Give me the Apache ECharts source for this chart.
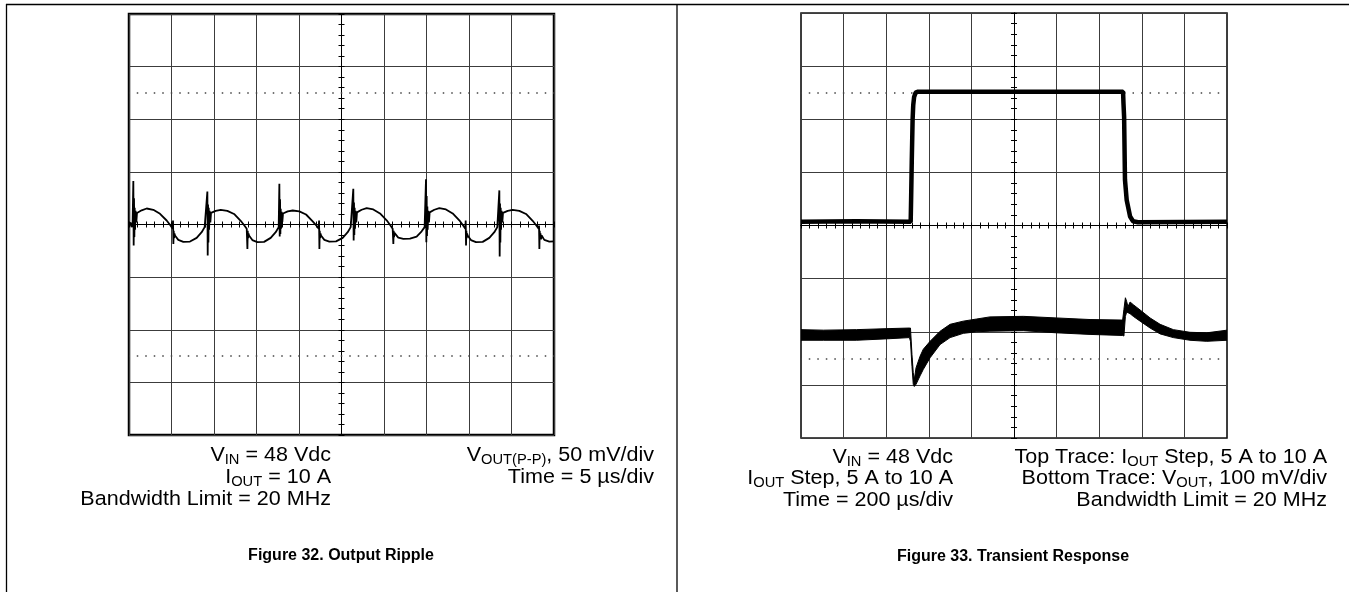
<!DOCTYPE html>
<html>
<head>
<meta charset="utf-8">
<title>Output Ripple / Transient Response</title>
<script src="https://cdn.jsdelivr.net/npm/echarts@6/dist/echarts.min.js"></script>
<style>
  html, body { margin: 0; padding: 0; background: #fff; }
  #c { width: 1349px; height: 592px; }
</style>
</head>
<body>
<div id="c"></div>
<script>
// ---------- Figure 32: output ripple (time in µs from left edge of screen, voltage in mV) ----------
const rippleSweepStart = -25;          // µs, left screen edge relative to trigger
const rippleTimeDiv = 5;               // µs/div
const rippleVoltDiv = 50;              // mV/div
const ripple = [
  [0.00,-1.5],[0.18,2.0],[0.30,-2.5],[0.42,-0.5],
  [0.51,41.3],[0.55,-20.0],[0.59,25.0],[0.63,-12.0],[0.67,16.0],[0.71,-5.0],[0.78,13.0],[0.86,2.0],[0.94,11.0],[1.10,12.5],
  [1.49,13.5],[2.08,15.2],[2.86,14.0],[3.65,10.2],[4.43,3.8],[4.82,-0.3],[5.14,-4.1],
  [5.18,3.8],[5.22,-18.4],[5.26,-6.0],[5.30,-13.0],[5.35,-8.5],
  [5.41,-10.5],[5.80,-14.6],[6.39,-16.5],[7.18,-16.2],[7.96,-12.7],[8.55,-7.3],[8.90,-2.5],

  [9.22,31.4],[9.26,-29.5],[9.30,19.0],[9.34,-17.0],[9.38,16.0],[9.42,-5.0],[9.49,13.0],[9.57,2.0],[9.65,11.0],[9.81,12.0],
  [10.20,13.0],[10.79,14.0],[11.57,13.0],[12.36,10.0],[13.14,3.5],[13.53,-0.5],[13.85,-4.1],
  [13.89,-2.5],[13.93,-23.2],[13.97,-6.0],[14.01,-13.0],[14.06,-8.5],
  [14.12,-10.5],[14.51,-14.8],[15.10,-16.8],[15.89,-16.5],[16.67,-12.7],[17.26,-7.3],[17.61,-2.5],

  [17.69,38.7],[17.73,-11.4],[17.77,24.0],[17.81,-9.0],[17.85,15.0],[17.89,-4.0],[17.96,12.0],[18.04,2.5],[18.12,10.5],[18.28,11.5],
  [18.67,12.5],[19.26,13.3],[20.04,12.5],[20.83,9.5],[21.61,3.0],[22.00,-0.5],[22.32,-4.1],
  [22.36,3.8],[22.40,-23.2],[22.44,-6.0],[22.48,-13.0],[22.53,-8.5],
  [22.59,-10.5],[22.98,-14.6],[23.57,-16.2],[24.36,-16.0],[25.14,-12.7],[25.73,-7.3],[26.08,-2.5],

  [26.39,34.0],[26.43,-15.2],[26.47,21.0],[26.51,-10.0],[26.55,16.0],[26.59,-4.0],[26.66,13.0],[26.74,2.0],[26.82,11.5],[26.98,13.0],
  [27.37,14.0],[27.96,15.5],[28.74,14.3],[29.53,10.5],[30.31,4.0],[30.70,-0.3],[31.02,-4.1],
  [31.06,-2.5],[31.10,-18.4],[31.14,-6.0],[31.18,-12.0],[31.23,-8.0],
  [31.29,-9.5],[31.68,-12.5],[32.27,-13.7],[33.06,-13.5],[33.84,-11.5],[34.43,-6.5],[34.78,-2.5],

  [34.94,42.9],[34.98,-16.8],[35.02,27.0],[35.06,-11.0],[35.10,17.0],[35.14,-5.0],[35.21,13.0],[35.29,2.0],[35.37,11.5],[35.53,13.0],
  [35.92,14.0],[36.51,15.5],[37.29,14.3],[38.08,10.5],[38.86,4.0],[39.25,-0.3],[39.57,-4.1],
  [39.61,3.8],[39.65,-20.0],[39.69,-6.0],[39.73,-13.0],[39.78,-8.5],
  [39.84,-10.5],[40.23,-14.8],[40.82,-16.8],[41.61,-16.5],[42.39,-12.7],[42.98,-7.3],[43.33,-2.5],

  [43.57,32.4],[43.61,-30.5],[43.65,20.0],[43.69,-17.0],[43.73,16.0],[43.77,-5.0],[43.84,13.0],[43.92,2.0],[44.00,11.0],[44.16,12.0],
  [44.55,13.0],[45.14,14.0],[45.92,13.0],[46.71,10.0],[47.49,3.5],[47.88,-0.5],[48.20,-4.1],
  [48.24,-1.0],[48.28,-23.2],[48.32,-6.0],[48.36,-13.0],[48.41,-8.5],[48.47,-14.0],[48.55,-10.5],
  [48.86,-14.6],[49.45,-16.2],[50.00,-16.0]
];

// ---------- Figure 33: transient response (time in µs from left edge, levels in screen divisions) ----------
const stepSweepStart = -1000;          // µs, left screen edge relative to trigger
const stepTimeDiv = 200;               // µs/div
// top trace: load current step 5 A -> 10 A
const currentStep = [
  [0,0.07],[260,0.08],[515,0.07],[517,0.5],[520,1.2],[524,2.0],[527,2.27],[531,2.42],[538,2.5],[550,2.52],
  [1000,2.52],[1512,2.52],[1514,2.3],[1517,2.04],[1521,0.86],[1529,0.48],[1545,0.17],[1559,0.08],[1582,0.06],[2000,0.07]
];
// bottom trace: output voltage, noise envelope [time, upper edge, lower edge]
const voutEnvelope = [
  [0,-1.96,-2.16],[105,-1.97,-2.16],[261,-1.96,-2.16],[418,-1.94,-2.13],[509,-1.93,-2.11],
  [514,-1.93,-2.18],[521,-2.43,-2.65],[527,-2.77,-2.99],[532,-2.90,-3.03],[540,-2.68,-2.99],
  [559,-2.46,-2.83],[574,-2.33,-2.71],[606,-2.18,-2.49],[653,-1.99,-2.24],[700,-1.86,-2.11],
  [762,-1.80,-2.03],[825,-1.76,-2.00],[887,-1.72,-1.99],[1044,-1.71,-1.98],[1200,-1.74,-2.02],
  [1357,-1.77,-2.05],[1510,-1.78,-2.07],[1516,-1.58,-2.08],[1523,-1.36,-1.71],[1529,-1.43,-1.63],
  [1535,-1.53,-1.64],[1545,-1.44,-1.66],[1560,-1.49,-1.71],[1592,-1.59,-1.80],[1639,-1.74,-1.93],
  [1686,-1.86,-2.04],[1748,-1.96,-2.11],[1826,-2.01,-2.16],[1905,-2.02,-2.18],[2000,-1.97,-2.16]
];

// ---------- text ----------
const leftNotesA = ['{n|V}{s|IN}{n| = 48 Vdc}', '{n|I}{s|OUT}{n| = 10 A}', '{n|Bandwidth Limit = 20 MHz}'];
const leftNotesB = ['{n|V}{s|OUT(P-P)}{n|, 50 mV/div}', '{n|Time = 5 µs/div}'];
const rightNotesA = ['{n|V}{s|IN}{n| = 48 Vdc}', '{n|I}{s|OUT}{n| Step, 5 A to 10 A}', '{n|Time = 200 µs/div}'];
const rightNotesB = ['{n|Top Trace: I}{s|OUT}{n| Step, 5 A to 10 A}', '{n|Bottom Trace: V}{s|OUT}{n|, 100 mV/div}', '{n|Bandwidth Limit = 20 MHz}'];
const captions = ['Figure 32. Output Ripple', 'Figure 33. Transient Response'];

const FONT = '"Liberation Sans", Arial, Helvetica, sans-serif';
const rich = {
  n: { fontFamily: FONT, fontSize: 20.5, lineHeight: 24, verticalAlign: 'middle', fill: '#000' },
  s: { fontFamily: FONT, fontSize: 14, lineHeight: 14, verticalAlign: 'bottom', fill: '#000' }
};

// ---------- scope screen helpers ----------
const gridLineStyle = { show: true, lineStyle: { color: '#3c3c3c', width: 1 } };
function centerX(gi, min, max, step, pos, withGrid) {
  return {
    type: 'value', gridIndex: gi, min, max, interval: step, position: pos,
    axisLabel: { show: false },
    axisLine: { show: true, onZero: true, lineStyle: { color: '#000', width: 1 } },
    axisTick: { show: true, length: 3, lineStyle: { color: '#000', width: 1 } },
    minorTick: { show: true, splitNumber: 5, length: 3, lineStyle: { color: '#000', width: 1 } },
    splitLine: withGrid ? gridLineStyle : { show: false }
  };
}
function dotted(values, period) {
  return {
    silent: true, symbol: ['none', 'none'], animation: false,
    label: { show: false },
    lineStyle: { color: '#444', width: 1.5, type: [1.5, period - 1.5], dashOffset: 0.75 },
    emphasis: { disabled: true },
    data: values.map(v => ({ yAxis: v }))
  };
}

const chart = echarts.init(document.getElementById('c'));

const graphic = [
  { type: 'line', shape: { x1: 6, y1: 4.5, x2: 1349, y2: 4.5 }, style: { stroke: '#000', lineWidth: 1.3 } },
  { type: 'line', shape: { x1: 6.5, y1: 4, x2: 6.5, y2: 592 }, style: { stroke: '#000', lineWidth: 1.3 } },
  { type: 'line', shape: { x1: 677, y1: 4, x2: 677, y2: 592 }, style: { stroke: '#000', lineWidth: 1.3 } }
];
function notes(list, x, y0, dy) {
  list.forEach((t, i) => graphic.push({
    type: 'text', x: x, y: y0 + i * dy, scaleX: 1.05,
    style: { text: t, rich: rich, align: 'right', verticalAlign: 'middle' }
  }));
}
notes(leftNotesA, 331, 455, 22);
notes(leftNotesB, 654, 455, 22);
notes(rightNotesA, 953, 457, 21.5);
notes(rightNotesB, 1327, 457, 21.5);
graphic.push({ type: 'text', x: 341, y: 556, style: { text: captions[0], font: 'bold 16px ' + FONT, fill: '#000', align: 'center', verticalAlign: 'middle' } });
graphic.push({ type: 'text', x: 1013, y: 557, style: { text: captions[1], font: 'bold 16px ' + FONT, fill: '#000', align: 'center', verticalAlign: 'middle' } });

chart.setOption({
  animation: false,
  backgroundColor: '#fff',
  grid: [
    { left: 129, top: 14, width: 425, height: 421, show: true, borderColor: '#000', borderWidth: 2.5, backgroundColor: 'transparent' },
    { left: 801, top: 13, width: 426, height: 425, show: true, borderColor: '#111', borderWidth: 1.6, backgroundColor: 'transparent' }
  ],
  xAxis: [
    centerX(0, -5 * rippleTimeDiv, 5 * rippleTimeDiv, rippleTimeDiv, 'bottom', true),
    centerX(0, -5 * rippleTimeDiv, 5 * rippleTimeDiv, rippleTimeDiv, 'top', false),
    centerX(1, -5 * stepTimeDiv, 5 * stepTimeDiv, stepTimeDiv, 'bottom', true),
    centerX(1, -5 * stepTimeDiv, 5 * stepTimeDiv, stepTimeDiv, 'top', false)
  ],
  yAxis: [
    centerX(0, -4 * rippleVoltDiv, 4 * rippleVoltDiv, rippleVoltDiv, 'left', true),
    centerX(0, -4 * rippleVoltDiv, 4 * rippleVoltDiv, rippleVoltDiv, 'right', false),
    centerX(1, -4, 4, 1, 'left', true),
    centerX(1, -4, 4, 1, 'right', false)
  ],
  graphic: graphic,
  series: [
    {
      name: 'VOUT ripple', type: 'line', xAxisIndex: 0, yAxisIndex: 0,
      showSymbol: false, symbol: 'none', clip: true,
      lineStyle: { color: '#000', width: 1.8 },
      data: ripple.map(p => [rippleSweepStart + p[0], p[1]]),
      markLine: dotted([2.5 * rippleVoltDiv, -2.5 * rippleVoltDiv], 42.5 / 5),
      z: 5
    },
    {
      name: 'IOUT step', type: 'line', xAxisIndex: 2, yAxisIndex: 2,
      showSymbol: false, symbol: 'none', clip: true,
      lineStyle: { color: '#000', width: 4.5 },
      data: currentStep.map(p => [stepSweepStart + p[0], p[1]]),
      markLine: dotted([2.5, -2.5], 42.6 / 5),
      z: 5
    },
    {
      name: 'VOUT transient', type: 'custom', xAxisIndex: 2, yAxisIndex: 2,
      data: [[0, 0]], silent: true, clip: true, z: 5,
      renderItem: function (params, api) {
        const pts = voutEnvelope.map(r => api.coord([stepSweepStart + r[0], r[1]]));
        for (let i = voutEnvelope.length - 1; i >= 0; i--) {
          const r = voutEnvelope[i];
          pts.push(api.coord([stepSweepStart + r[0], r[2]]));
        }
        return { type: 'polygon', shape: { points: pts }, style: { fill: '#000', stroke: '#000', lineWidth: 1 } };
      }
    }
  ]
});
</script>
</body>
</html>
